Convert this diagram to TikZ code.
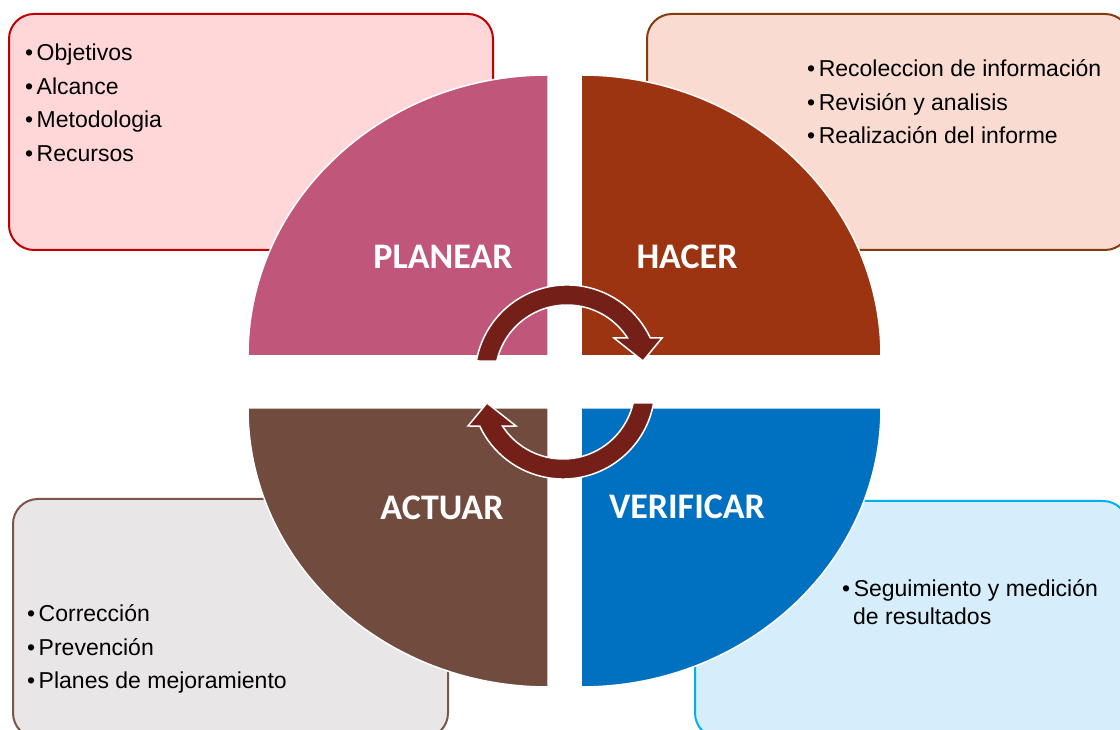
\documentclass[tikz,border=0pt]{standalone}
\usepackage{fontspec}
\setmainfont{Liberation Sans}
\newfontfamily\hdrfont{Carlito}
\definecolor{planC}{HTML}{C0567A}
\definecolor{hacC}{HTML}{9C3412}
\definecolor{actC}{HTML}{704B3E}
\definecolor{verC}{HTML}{0070C0}
\definecolor{arrC}{HTML}{742019}
\definecolor{pinkFill}{HTML}{FFD7D8}
\definecolor{pinkLine}{HTML}{C00000}
\definecolor{peachFill}{HTML}{F9DBD1}
\definecolor{peachLine}{HTML}{843C0C}
\definecolor{grayFill}{HTML}{E8E6E6}
\definecolor{grayLine}{HTML}{7A5648}
\definecolor{blueFill}{HTML}{D6EDFB}
\definecolor{blueLine}{HTML}{00B0F0}
\begin{document}
\begin{tikzpicture}[x=1pt,y=1pt,
  infobox/.style={rounded corners=25pt, line width=2pt},
  quad/.style={draw=white, line width=1.5pt},
  item/.style={anchor=base west, inner sep=0pt, font=\fontsize{23}{28}\selectfont},
  phase/.style={inner sep=0pt, text=white, font=\hdrfont\bfseries\fontsize{36}{40}\selectfont},
  cyc/.style={fill=arrC, draw=white, line width=1.5pt, line join=miter}]
\useasboundingbox (0,0) rectangle (1120,730);

% information boxes
\draw[infobox, fill=pinkFill, draw=pinkLine] (9,716) rectangle (493,480);
\draw[infobox, fill=peachFill, draw=peachLine] (647,716) rectangle (1130,480);
\draw[infobox, fill=grayFill, draw=grayLine] (13,231) rectangle (448,-8);
\draw[infobox, fill=blueFill, draw=blueLine] (695,229) rectangle (1128,-8);

% quadrants
\filldraw[quad, fill=planC] (548,374) -- (248,374) arc[start angle=180, end angle=90, x radius=300, y radius=281] -- cycle;
\filldraw[quad, fill=hacC] (581,374) -- (581,655) arc[start angle=90, end angle=0, x radius=300, y radius=281] -- cycle;
\filldraw[quad, fill=actC] (548,322) -- (548,43) arc[start angle=270, end angle=180, x radius=300, y radius=279] -- cycle;
\filldraw[quad, fill=verC] (581,322) -- (881,322) arc[start angle=0, end angle=-90, x radius=300, y radius=279] -- cycle;

% phase labels
\node[phase] (planear) at (443,473) {PLANEAR};
\node[phase] (hacer) at (687,473) {HACER};
\node[phase] (actuar) at (442,222) {ACTUAR};
\node[phase] (verificar) at (687,223) {VERIFICAR};

% items
\node[item] (p1) at (25,669) {\textbullet\hspace{3.5pt}Objetivos};
\node[item] (p2) at (25,635) {\textbullet\hspace{3.5pt}Alcance};
\node[item] (p3) at (25,602) {\textbullet\hspace{3.5pt}Metodologia};
\node[item] (p4) at (25,568) {\textbullet\hspace{3.5pt}Recursos};

\node[item] (h1) at (807,653) {\textbullet\hspace{3.5pt}Recoleccion de información};
\node[item] (h2) at (807,619) {\textbullet\hspace{3.5pt}Revisión y analisis};
\node[item] (h3) at (807,586) {\textbullet\hspace{3.5pt}Realización del informe};

\node[item] (a1) at (27,108) {\textbullet\hspace{3.5pt}Corrección};
\node[item] (a2) at (27,74) {\textbullet\hspace{3.5pt}Prevención};
\node[item] (a3) at (27,41) {\textbullet\hspace{3.5pt}Planes de mejoramiento};

\node[item] (v1) at (842,133) {\textbullet\hspace{3.5pt}Seguimiento y medición};
\node[item] (v2) at (853,105) {de resultados};

% cycle arrows
\path[cyc] (476.4,369) arc[start angle=170, end angle=25.1, radius=92]
  -- (662,392) -- (643,369) -- (614,392) -- (627.4,392.2)
  arc[start angle=33, end angle=167.2, radius=72] -- cycle;
\path[cyc, rotate around={180:(565,348)}] (476.4,369) arc[start angle=170, end angle=25.1, radius=92]
  -- (662,392) -- (643,369) -- (614,392) -- (627.4,392.2)
  arc[start angle=33, end angle=167.2, radius=72] -- cycle;
\end{tikzpicture}
\end{document}
